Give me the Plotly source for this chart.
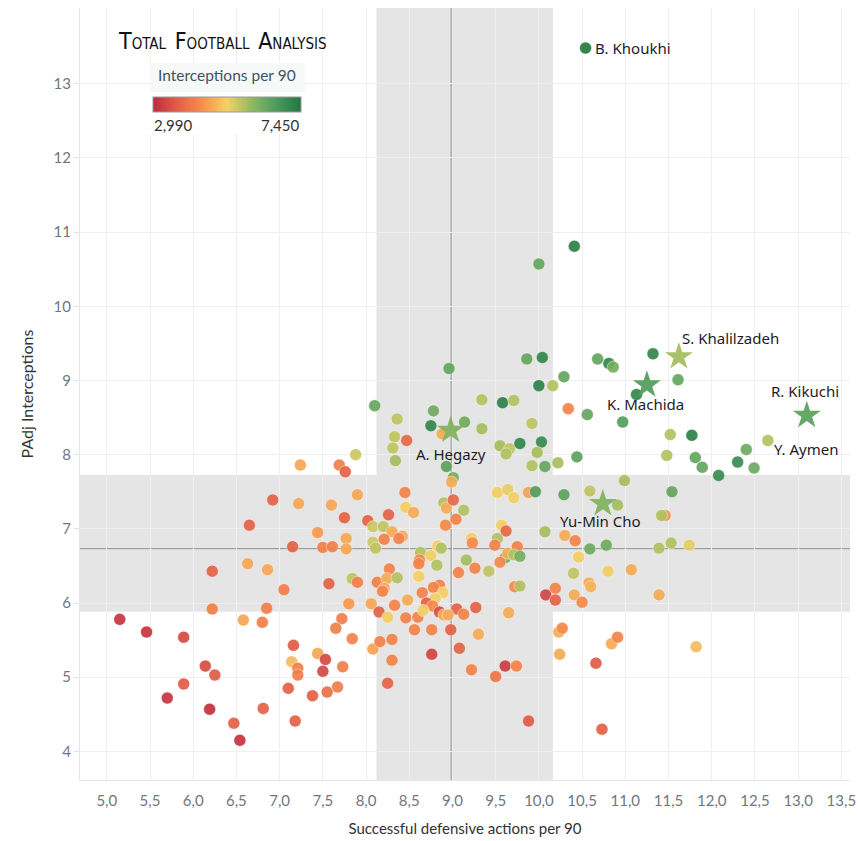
import plotly.graph_objects as go

# ---------------- data ----------------
# Successful defensive actions per 90 (x), PAdj interceptions (y), interceptions per 90 (colour)
def_actions = [
    7.88, 7.24, 7.69, 7.76, 7.90, 6.92, 7.22, 7.60, 7.75, 8.02, 8.08, 6.65, 7.44, 7.77, 8.08, 8.11,
    7.15, 7.50, 7.61, 7.77, 6.22, 6.63, 6.86, 7.84, 7.90, 7.57, 8.13, 7.05, 7.80, 8.06, 6.22, 6.85,
    8.15, 5.15, 6.58, 6.80, 7.72, 7.65, 5.46, 5.89, 7.84, 7.16, 8.08, 8.16, 7.44, 7.53, 7.14, 7.21,
    7.21, 7.50, 7.73, 6.14, 6.25, 5.89, 7.10, 7.38, 7.55, 7.67, 5.70, 6.19, 6.81, 6.47, 7.18, 6.54,
    8.96, 9.86, 10.04, 10.68, 10.81, 10.86, 10.00, 10.16, 10.29, 8.10, 9.34, 9.58, 9.71, 10.34, 10.56, 10.97,
    8.36, 8.78, 8.75, 9.14, 9.34, 9.92, 8.88, 8.47, 8.33, 8.31, 8.34, 8.93, 9.01, 8.99, 9.55, 9.66,
    9.62, 9.78, 10.03, 9.98, 9.92, 10.07, 10.22, 10.44, 10.99, 8.45, 8.46, 8.55, 8.26, 8.20, 8.30, 8.42,
    8.38, 8.21, 8.90, 8.93, 9.01, 9.13, 9.04, 8.92, 9.52, 9.64, 9.71, 9.88, 9.96, 10.29, 10.59, 10.91,
    9.57, 9.62, 9.52, 10.07, 10.30, 10.42, 10.59, 10.78, 9.22, 9.23, 9.49, 9.75, 8.63, 8.83, 8.87, 8.75,
    8.62, 8.61, 8.82, 9.16, 9.26, 9.61, 9.64, 9.71, 9.78, 9.55, 10.46, 8.27, 8.24, 8.36, 8.21, 8.19,
    8.61, 9.07, 9.42, 10.40, 10.80, 11.07, 8.85, 8.78, 8.89, 8.80, 8.65, 8.48, 8.33, 8.70, 8.77, 8.85,
    8.90, 9.05, 9.13, 9.27, 9.65, 9.72, 9.78, 10.08, 10.19, 10.19, 10.41, 10.58, 10.60, 10.50, 8.46, 8.60,
    10.41, 10.00, 11.32, 11.61, 11.13, 11.52, 11.77, 12.65, 12.40, 12.30, 12.49, 12.08, 11.81, 11.89, 11.48, 11.54,
    11.46, 11.42, 11.39, 11.53, 11.74, 11.39, 10.23, 10.27, 8.25, 8.66, 8.95, 8.56, 8.76, 8.98, 9.30, 8.30,
    8.30, 8.76, 9.08, 8.25, 9.22, 9.50, 9.61, 9.74, 9.88, 10.24, 10.66, 10.84, 10.91, 10.73, 11.82, 10.54,
]
padj_interceptions = [
    8.00, 7.86, 7.86, 7.77, 7.46, 7.39, 7.34, 7.32, 7.15, 7.11, 7.03, 7.05, 6.95, 6.87, 6.82, 6.74,
    6.76, 6.75, 6.76, 6.73, 6.43, 6.53, 6.45, 6.33, 6.28, 6.26, 6.28, 6.18, 5.99, 5.99, 5.92, 5.93,
    5.88, 5.78, 5.77, 5.74, 5.79, 5.66, 5.61, 5.54, 5.52, 5.43, 5.38, 5.48, 5.32, 5.24, 5.21, 5.12,
    5.03, 5.08, 5.14, 5.15, 5.03, 4.91, 4.85, 4.75, 4.80, 4.87, 4.72, 4.57, 4.58, 4.38, 4.41, 4.15,
    9.16, 9.29, 9.31, 9.29, 9.23, 9.18, 8.93, 8.93, 9.05, 8.66, 8.74, 8.70, 8.73, 8.62, 8.54, 8.44,
    8.48, 8.59, 8.39, 8.44, 8.35, 8.42, 8.28, 8.19, 8.24, 8.09, 7.92, 7.84, 7.69, 7.63, 8.12, 8.08,
    8.01, 8.15, 8.17, 8.03, 7.85, 7.84, 7.89, 7.97, 7.65, 7.49, 7.29, 7.22, 7.19, 7.03, 6.96, 6.90,
    6.87, 6.86, 7.35, 7.28, 7.39, 7.25, 7.13, 7.05, 7.49, 7.53, 7.42, 7.49, 7.50, 7.46, 7.51, 7.32,
    7.05, 6.97, 6.87, 6.96, 6.91, 6.84, 6.73, 6.78, 6.87, 6.81, 6.78, 6.76, 6.68, 6.77, 6.74, 6.64,
    6.58, 6.53, 6.51, 6.58, 6.47, 6.61, 6.67, 6.65, 6.63, 6.55, 6.62, 6.46, 6.33, 6.34, 6.20, 6.16,
    6.36, 6.41, 6.43, 6.40, 6.43, 6.45, 6.24, 6.21, 6.14, 6.06, 6.14, 6.04, 5.97, 6.00, 5.96, 5.88,
    5.84, 5.92, 5.85, 5.94, 5.87, 6.22, 6.23, 6.11, 6.20, 6.04, 6.11, 6.27, 6.22, 6.01, 5.80, 5.81,
    10.81, 10.57, 9.36, 9.01, 8.81, 8.27, 8.26, 8.19, 8.07, 7.90, 7.82, 7.72, 7.96, 7.83, 7.99, 7.50,
    7.18, 7.18, 6.74, 6.81, 6.78, 6.11, 5.61, 5.66, 5.81, 5.90, 5.84, 5.64, 5.64, 5.64, 5.58, 5.51,
    5.23, 5.31, 5.39, 4.92, 5.10, 5.01, 5.15, 5.15, 4.41, 5.31, 5.19, 5.45, 5.54, 4.30, 5.41, 13.48,
]
interceptions_p90 = [
    5.5, 4.75, 4.25, 3.8, 4.75, 3.8, 4.75, 4.75, 3.8, 3.8, 5.5, 3.8, 4.6, 4.75, 5.5, 5.6,
    3.8, 4.25, 4.25, 4.75, 3.8, 4.75, 4.75, 5.6, 4.25, 3.8, 4.25, 4.25, 4.6, 4.75, 4.25, 4.25,
    3.8, 3.15, 4.75, 4.25, 4.25, 4.25, 3.15, 3.45, 4.3, 3.7, 4.7, 4.3, 4.75, 3.45, 5.0, 4.25,
    4.25, 3.45, 4.25, 3.5, 3.7, 3.7, 3.8, 3.8, 4.0, 4.25, 3.15, 3.1, 3.8, 3.8, 3.8, 3.15,
    6.4, 6.4, 7.1, 6.4, 7.1, 6.2, 7.2, 5.7, 6.4, 6.4, 5.7, 7.2, 5.7, 4.3, 6.4, 6.6,
    5.6, 6.3, 7.1, 6.3, 5.8, 5.6, 4.8, 3.9, 5.6, 5.6, 5.8, 6.5, 6.2, 4.8, 5.8, 5.6,
    5.7, 7.1, 7.0, 5.8, 5.7, 6.4, 5.8, 6.5, 5.8, 4.3, 5.2, 4.8, 3.8, 5.6, 4.8, 4.8,
    4.3, 4.3, 5.7, 4.8, 3.9, 5.7, 4.3, 4.4, 5.2, 5.3, 5.2, 4.7, 6.6, 6.5, 5.6, 5.8,
    5.2, 3.9, 5.7, 5.8, 4.8, 4.3, 6.3, 6.3, 5.2, 4.4, 4.3, 4.3, 5.7, 5.2, 5.7, 5.2,
    4.4, 4.3, 5.7, 5.8, 4.3, 6.3, 4.8, 5.7, 6.2, 4.4, 5.2, 4.3, 4.8, 5.7, 4.8, 4.3,
    5.2, 4.3, 5.6, 5.6, 5.2, 4.8, 4.3, 4.3, 5.2, 5.2, 4.3, 4.8, 4.3, 3.8, 4.4, 3.5,
    4.8, 3.8, 4.3, 3.8, 4.8, 4.4, 5.7, 3.4, 4.3, 3.8, 4.8, 4.8, 4.9, 4.4, 4.3, 4.3,
    7.2, 6.4, 7.1, 6.4, 7.1, 5.7, 7.2, 5.7, 6.3, 7.0, 6.3, 7.0, 6.4, 6.4, 5.7, 6.4,
    4.5, 5.7, 5.7, 5.7, 5.3, 4.8, 4.8, 4.4, 5.2, 5.2, 4.8, 4.3, 4.3, 3.8, 4.8, 4.3,
    4.3, 3.4, 3.8, 3.8, 4.3, 4.1, 3.3, 4.3, 3.7, 4.8, 3.7, 4.8, 4.3, 3.8, 5.0, 7.35,
]

# highlighted players (stars)
star_names = ["A. Hegazy", "S. Khalilzadeh", "K. Machida", "R. Kikuchi", "Yu-Min Cho"]
star_actions = [8.98, 11.62, 11.25, 13.10, 10.74]
star_padj = [8.33, 9.32, 8.94, 8.53, 7.34]
star_ipm = [6.1, 5.8, 6.6, 6.5, 6.1]

# labelled circles
circle_label_names = ["B. Khoukhi", "Y. Aymen"]
circle_label_index = [len(def_actions) - 1, 199]

# reference lines / bands
median_actions = 8.985
median_padj = 6.733
band_actions = (8.121, 10.162)
band_padj = (5.884, 7.726)

ipm_min, ipm_max = 2.99, 7.45
x_ticks = [5.0 + 0.5 * i for i in range(18)]
x_tick_text = [f"{v:.1f}".replace(".", ",") for v in x_ticks]
y_ticks = list(range(4, 14))

colorscale = [
    [0.0, "#be2a3e"], [1 / 6, "#e25f48"], [2 / 6, "#f88f4d"], [0.5, "#f4d166"],
    [4 / 6, "#90b960"], [5 / 6, "#4b9b5f"], [1.0, "#22763f"],
]

# ---------------- figure ----------------
W, H = 858, 841
L, R, T, B = 80, 8, 8, 61
PW, PH = W - L - R, H - T - B


def px(xp):
    return (xp - L) / PW


def py(yp):
    return (H - B - yp) / PH


fig = go.Figure()

fig.add_trace(go.Scatter(
    x=def_actions, y=padj_interceptions, mode="markers", hoverinfo="skip",
    marker=dict(
        size=12, color=interceptions_p90, colorscale=colorscale, cmin=ipm_min, cmax=ipm_max,
        opacity=0.93, line=dict(width=1, color="rgba(255,255,255,0.45)"),
        showscale=True,
        colorbar=dict(
            orientation="h", x=px(153), xanchor="left", y=py(104.7), yanchor="middle",
            len=148, lenmode="pixels", thickness=15, thicknessmode="pixels",
            xpad=0, ypad=0, outlinecolor="#9a9a9a", outlinewidth=1,
            showticklabels=False, ticks="",
        ),
    ),
    showlegend=False,
))

fig.add_trace(go.Scatter(
    x=star_actions, y=star_padj, mode="markers", hoverinfo="skip",
    marker=dict(symbol="star", size=21, color=star_ipm, colorscale=colorscale,
                cmin=ipm_min, cmax=ipm_max, opacity=0.95, line=dict(width=0),
                showscale=False),
    showlegend=False,
))

shapes = [
    dict(type="rect", xref="x", yref="paper", x0=band_actions[0], x1=band_actions[1], y0=0, y1=1,
         fillcolor="#e5e5e5", line=dict(width=0), layer="below"),
    dict(type="rect", xref="paper", yref="y", x0=0, x1=1, y0=band_padj[0], y1=band_padj[1],
         fillcolor="#e5e5e5", line=dict(width=0), layer="below"),
    dict(type="line", xref="x", yref="paper", x0=median_actions, x1=median_actions, y0=0, y1=1,
         line=dict(color="#8f8f8f", width=1), layer="between"),
    dict(type="line", xref="paper", yref="y", x0=0, x1=1, y0=median_padj, y1=median_padj,
         line=dict(color="#8f8f8f", width=1), layer="between"),
    # legend background
    dict(type="rect", xref="paper", yref="paper", x0=px(150), x1=px(305), y0=py(134), y1=py(63),
         fillcolor="#ffffff", line=dict(width=0), layer="above"),
    dict(type="rect", xref="paper", yref="paper", x0=px(150), x1=px(305), y0=py(92), y1=py(63),
         fillcolor="#f7f9f9", line=dict(width=0), layer="above"),
]

label_font = dict(family="Noto Sans, Open Sans, sans-serif", size=15, color="#1c1c28")
annotations = []
star_offsets = {
    "A. Hegazy": ("center", 0, -24),
    "S. Khalilzadeh": ("left", 1, 19),
    "K. Machida": ("center", -1, -19),
    "R. Kikuchi": ("center", -2, 24),
    "Yu-Min Cho": ("center", -2, -17),
}
for n, xv, yv in zip(star_names, star_actions, star_padj):
    anc, dx, dy = star_offsets[n]
    annotations.append(dict(x=xv, y=yv, xref="x", yref="y", text=n, showarrow=False,
                            xanchor=anc, yanchor="middle", xshift=dx, yshift=dy, font=label_font))
circle_offsets = {"B. Khoukhi": (7, 0), "Y. Aymen": (4, -8)}
for n, i in zip(circle_label_names, circle_label_index):
    dx, dy = circle_offsets[n]
    annotations.append(dict(x=def_actions[i], y=padj_interceptions[i], xref="x", yref="y", text=n,
                            showarrow=False, xanchor="left", yanchor="middle", xshift=dx, yshift=dy,
                            font=label_font))

# logo
logo = ("<span style='font-size:23px'>T</span>OTAL  <span style='font-size:23px'>F</span>OOTBALL  "
        "<span style='font-size:23px'>A</span>NALYSIS")
annotations.append(dict(x=px(222), y=py(41), xref="paper", yref="paper", text=logo, showarrow=False,
                        xanchor="center", yanchor="middle",
                        font=dict(family="DejaVu Sans Condensed, DejaVu Sans, sans-serif", size=15,
                                  color="#111111")))
# legend texts
annotations.append(dict(x=px(227), y=py(75), xref="paper", yref="paper", text="Interceptions per 90",
                        showarrow=False, xanchor="center", yanchor="middle",
                        font=dict(family="Lato, sans-serif", size=15.5, color="#3f5266")))
annotations.append(dict(x=px(152), y=py(125), xref="paper", yref="paper",
                        text=f"{ipm_min * 1000:,.0f}", showarrow=False, xanchor="left",
                        yanchor="middle", font=dict(family="Lato, sans-serif", size=15, color="#333333")))
annotations.append(dict(x=px(302), y=py(125), xref="paper", yref="paper",
                        text=f"{ipm_max * 1000:,.0f}", showarrow=False, xanchor="right",
                        yanchor="middle", font=dict(family="Lato, sans-serif", size=15, color="#333333")))

fig.update_layout(
    width=W, height=H, margin=dict(l=L, r=R, t=T, b=B, autoexpand=False),
    paper_bgcolor="white", plot_bgcolor="white",
    shapes=shapes, annotations=annotations,
    xaxis=dict(
        range=[4.69, 13.6], tickvals=x_ticks, ticktext=x_tick_text, showgrid=True,
        gridcolor="#efefef", gridwidth=1, zeroline=False, showline=True, linecolor="#e6e6e6",
        ticks="", ticklabelstandoff=7, automargin=False,
        tickfont=dict(family="Lato, sans-serif", size=15, color="#6f7780"),
        title=dict(text="Successful defensive actions per 90", standoff=15,
                   font=dict(family="Lato, sans-serif", size=15, color="#333333")),
    ),
    yaxis=dict(
        range=[3.615, 14.02], tickvals=y_ticks, showgrid=True, gridcolor="#efefef", gridwidth=1,
        zeroline=False, showline=True, linecolor="#e6e6e6", automargin=False,
        ticks="outside", ticklen=5, tickcolor="#e2e2e2",
        tickfont=dict(family="Lato, sans-serif", size=15, color="#6f7780"),
        title=dict(text="PAdj Interceptions", standoff=15,
                   font=dict(family="Lato, sans-serif", size=16, color="#333333")),
    ),
)

fig.write_html("out.html")
